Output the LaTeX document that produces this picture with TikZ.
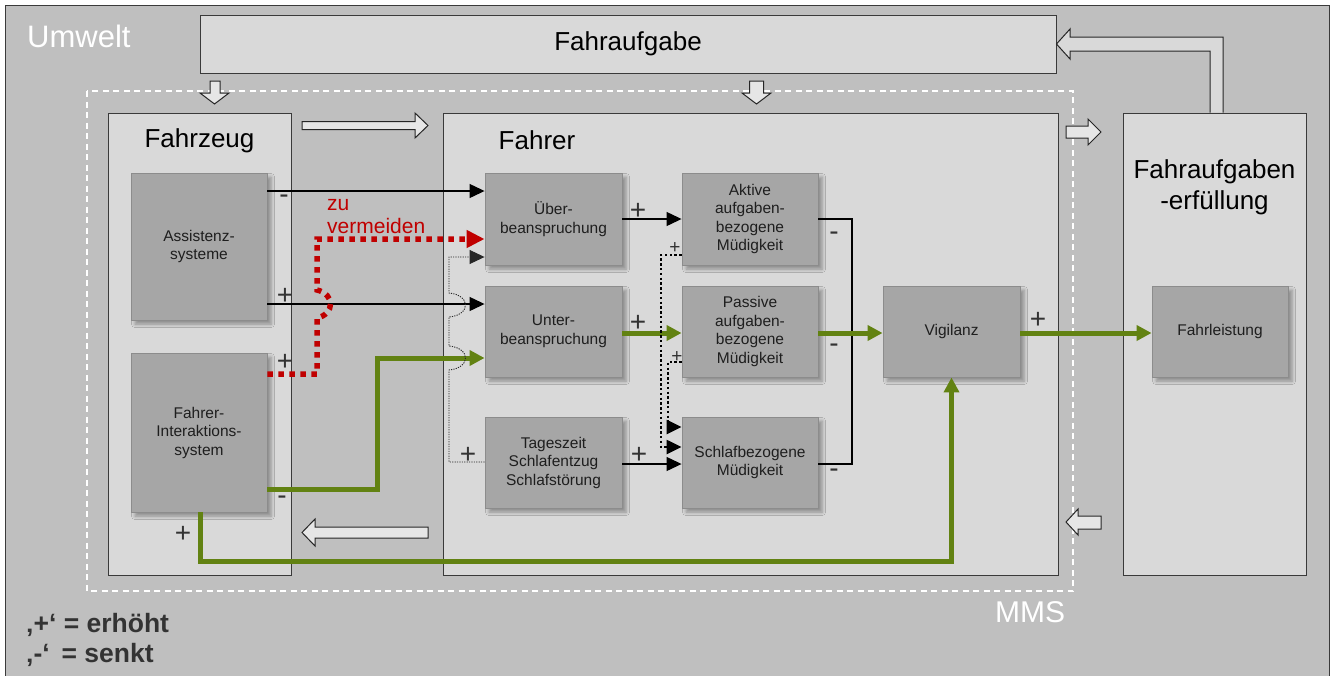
\documentclass[tikz,border=0pt]{standalone}
\usepackage{fontspec}
\setmainfont{Liberation Sans}
\usetikzlibrary{arrows.meta,shadows.blur}

\definecolor{umwelt}{HTML}{BFBFBF}
\definecolor{panel}{HTML}{D9D9D9}
\definecolor{block}{HTML}{A6A6A6}
\definecolor{blockline}{HTML}{8C8C8C}
\definecolor{frameline}{HTML}{3A3A3A}
\definecolor{textdark}{HTML}{1E1E1E}
\definecolor{signdark}{HTML}{333333}
\definecolor{vgreen}{RGB}{98,130,18}
\definecolor{avoid}{HTML}{C00000}
\definecolor{hollowfill}{HTML}{E6E6E6}

\tikzset{
  panelbox/.style={draw=frameline, fill=panel, line width=0.9pt, inner sep=0pt},
  blockbox/.style={draw=blockline, fill=block, line width=0.9pt, inner sep=2pt,
    align=center, text=textdark, font=\fontsize{15.5}{18.5}\selectfont,
    blur shadow={shadow xshift=4pt, shadow yshift=-4pt, shadow blur radius=3.5pt, shadow opacity=35}},
  title/.style={font=\fontsize{26}{31}\selectfont, text=black, inner sep=0pt},
  sign/.style={font=\fontsize{28}{28}\selectfont, text=signdark, inner sep=0pt},
  smallsign/.style={font=\fontsize{19}{19}\selectfont, text=signdark, inner sep=0pt},
  link/.style={line width=1.2pt, draw=black},
  linkarrow/.style={link, -{Triangle[length=15pt,width=14pt]}},
  greenlink/.style={line width=5pt, draw=vgreen, line join=miter,
    -{Triangle[length=15pt,width=15pt]}},
  redlink/.style={line width=5.5pt, draw=avoid, dash pattern=on 5.5pt off 5.5pt,
    -{Triangle[length=18pt,width=17pt]}},
  finelink/.style={line width=0.9pt, draw=black!85, dash pattern=on 1.2pt off 1.2pt,
    -{Triangle[length=15pt,width=14pt]}},
  dotlink/.style={line width=2.4pt, draw=black, dash pattern=on 2.4pt off 2.4pt,
    -{Triangle[length=15pt,width=14pt]}},
  hollow/.style={draw=black!85, fill=hollowfill, line width=1pt, line join=miter},
}

\begin{document}
\begin{tikzpicture}[x=1pt,y=-1pt]
\useasboundingbox (0,0) rectangle (1337,675);
\fill[white] (0,0) rectangle (1337,675);

% environment
\draw[draw=frameline, fill=umwelt, line width=0.9pt] (5.5,5.5) rectangle (1329,700);
\node[anchor=base west, inner sep=0pt, text=white, font=\fontsize{31}{31}\selectfont] (envlabel) at (27,47) {Umwelt};

% driving task
\node[panelbox, minimum width=856pt, minimum height=58pt, font=\fontsize{26}{31}\selectfont] (task) at (628,44) {Fahraufgabe};

% human-machine system boundary
\draw[white, line width=1.3pt, dash pattern=on 6pt off 4.5pt] (87,91) rectangle (1073,591);
\node[anchor=base west, inner sep=0pt, text=white, font=\fontsize{30}{30}\selectfont] (mmslabel) at (995,622) {MMS};

% main panels
\node[panelbox, minimum width=183pt, minimum height=462pt] (vehicle) at (199.5,344) {};
\node[title, anchor=base] (vehicletitle) at (199.5,147) {Fahrzeug};
\node[panelbox, minimum width=615pt, minimum height=462pt] (driver) at (750.5,344) {};
\node[title, anchor=base] (drivertitle) at (537,149) {Fahrer};
\node[panelbox, minimum width=183pt, minimum height=462pt] (fulfil) at (1214.5,344) {};
\node[title, anchor=base] (fulfiltitleA) at (1214.5,178) {Fahraufgaben};
\node[title, anchor=base] (fulfiltitleB) at (1214.5,209) {-erfüllung};

% block arrows
\draw[hollow] (210,81) -- (220,81) -- (220,93) -- (229,93) -- (214.5,104) -- (200,93) -- (210,93) -- cycle;
\draw[hollow] (749.5,81) -- (763.5,81) -- (763.5,93) -- (771,93) -- (756.5,104) -- (742,93) -- (749.5,93) -- cycle;
\draw[hollow] (302,121.5) -- (415,121.5) -- (415,113) -- (428,125.5) -- (415,138) -- (415,129.5) -- (302,129.5) -- cycle;
\draw[hollow] (428,527) -- (315,527) -- (315,519) -- (302,532.5) -- (315,546) -- (315,538) -- (428,538) -- cycle;
\draw[hollow] (1066,126) -- (1088,126) -- (1088,119) -- (1101,132) -- (1088,145) -- (1088,138) -- (1066,138) -- cycle;
\draw[hollow] (1101,516) -- (1078,516) -- (1078,509) -- (1066,522) -- (1078,535) -- (1078,529) -- (1101,529) -- cycle;
\draw[hollow, fill=panel] (fulfil.north -| 1210,0) -- (1210,51) -- (1070,51) -- (1070,59) -- (task.east |- 0,44)
  -- (1070,29) -- (1070,37) -- (1223,37) -- (fulfil.north -| 1223,0);

% vehicle blocks
\node[blockbox, minimum width=136pt, minimum height=147pt] (assist) at (199,246.5) {Assistenz-\\systeme};
\node[blockbox, minimum width=136pt, minimum height=159pt] (hmi) at (199,432.5) {Fahrer-\\Interaktions-\\system};

% driver blocks
\node[blockbox, minimum width=137pt, minimum height=92pt] (over) at (553.5,219) {Über-\\beanspruchung};
\node[blockbox, minimum width=137pt, minimum height=91pt] (under) at (553.5,331.5) {Unter-\\beanspruchung};
\node[blockbox, minimum width=137pt, minimum height=91pt] (daytime) at (553.5,462.5) {Tageszeit\\Schlafentzug\\Schlafstörung};
\node[blockbox, minimum width=136pt, minimum height=92pt] (active) at (750,219) {Aktive\\aufgaben-\\bezogene\\Müdigkeit};
\node[blockbox, minimum width=136pt, minimum height=91pt] (passive) at (750,331.5) {Passive\\aufgaben-\\bezogene\\Müdigkeit};
\node[blockbox, minimum width=136pt, minimum height=91pt] (sleep) at (750,462.5) {Schlafbezogene\\Müdigkeit};
\node[blockbox, minimum width=137pt, minimum height=91pt] (vigil) at (951.5,331.5) {Vigilanz};

% performance block
\node[blockbox, minimum width=136pt, minimum height=91pt] (perf) at (1220,331.5) {Fahrleistung};

% connectors from the vehicle side
\draw[linkarrow] (assist.east |- 0,191) -- (over.west |- 0,191);
\draw[linkarrow] (assist.east |- 0,304) -- (under.west |- 0,304);
\draw[greenlink] (hmi.east |- 0,489) -- (377,489) -- (377,358) -- (under.west |- 0,358);
\draw[redlink] (hmi.east |- 0,374) -- (317,374) -- (317,318)
  .. controls (335,314) and (335,294) .. (317,290) -- (317,239) -- (over.west |- 0,239);
\draw[greenlink] (hmi.south -| 200,0) |- (vigil.south |- 0,561) -- (vigil.south);

% time of day feeds overload (with line jumps)
\draw[finelink] (daytime.west |- 0,462) -- (449,462) -- (449,370)
  .. controls (471,368) and (471,348) .. (449,346) -- (449,317)
  .. controls (471,315) and (471,295) .. (449,293) -- (449,257) -- (over.west |- 0,257);

% load to fatigue
\draw[linkarrow] (over.east) -- (active.west);
\draw[greenlink] (under.east |- 0,333) -- (passive.west |- 0,333);
\draw[linkarrow] (daytime.east |- 0,464) -- (sleep.west |- 0,464);
\draw[dotlink] (active.west |- 0,255) -- (661,255) -- (661,447) -- (sleep.west |- 0,447);
\draw[dotlink] (passive.west |- 0,362) -- (668,362) -- (668,427) -- (sleep.west |- 0,427);

% fatigue to vigilance
\draw[link] (active.east) -- (852,219) -- (852,464) -- (sleep.east |- 0,464);
\draw[greenlink] (passive.east |- 0,333) -- (vigil.west |- 0,333);
\draw[greenlink] (vigil.east |- 0,333) -- (perf.west |- 0,333);

% signs
\node[sign] (s1) at (284,199) {-};
\node[sign] (s2) at (285,296) {+};
\node[sign] (s3) at (285,362) {+};
\node[sign] (s4) at (282,500) {-};
\node[sign] (s5) at (183,534) {+};
\node[sign] (s6) at (638,211) {+};
\node[sign] (s7) at (638,323) {+};
\node[sign] (s8) at (639,455) {+};
\node[sign] (s9) at (468,455) {+};
\node[smallsign] (s10) at (675,248) {+};
\node[smallsign] (s11) at (677,357) {+};
\node[sign] (s12) at (834,236) {-};
\node[sign] (s13) at (834,348) {-};
\node[sign] (s14) at (834,473) {-};
\node[sign] (s15) at (1038,320) {+};

% warning label
\node[anchor=base west, inner sep=0pt, text=avoid, font=\fontsize{21}{23}\selectfont] (avoidlabel) at (327,210) {zu};
\node[anchor=base west, inner sep=0pt, text=avoid, font=\fontsize{21}{23}\selectfont] (avoidlabelB) at (327,233) {vermeiden};

% legend
\node[anchor=base west, inner sep=0pt, text=signdark, font=\bfseries\fontsize{26.5}{26.5}\selectfont] (legendA) at (26,632) {‚+‘ = erhöht};
\node[anchor=base west, inner sep=0pt, text=signdark, font=\bfseries\fontsize{26.5}{26.5}\selectfont] (legendB) at (26,662) {‚-‘ \,= senkt};
\end{tikzpicture}
\end{document}
